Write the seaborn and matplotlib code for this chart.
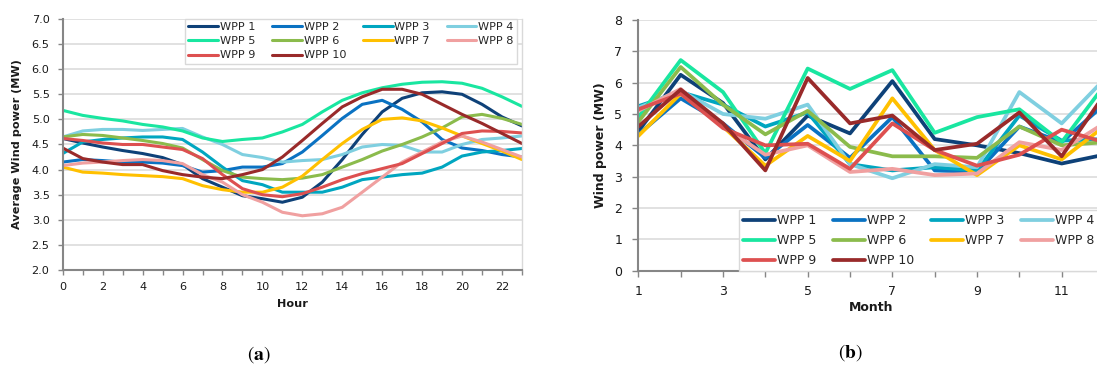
import pandas as pd
import seaborn as sns
import matplotlib.pyplot as plt
from matplotlib.ticker import MultipleLocator

# ---- data ----
hours = list(range(24))
months = list(range(1, 13))
plants = ['WPP 1', 'WPP 2', 'WPP 3', 'WPP 4', 'WPP 5',
          'WPP 6', 'WPP 7', 'WPP 8', 'WPP 9', 'WPP 10']
colors = ['#0e4178', '#0a72c2', '#00a6c0', '#7fcfe0', '#19e6a0',
          '#8bbb4c', '#ffc000', '#f0a0a0', '#dd5050', '#992a2a']

# (a) average wind power per hour
wpp1_hour = [4.62, 4.53, 4.45, 4.38, 4.32, 4.24, 4.10, 3.82, 3.65, 3.48, 3.42, 3.35,
             3.45, 3.75, 4.20, 4.70, 5.15, 5.42, 5.53, 5.55, 5.50, 5.30, 5.05, 4.87]
wpp2_hour = [4.15, 4.20, 4.18, 4.15, 4.15, 4.13, 4.08, 3.95, 3.98, 4.05, 4.05, 4.12,
             4.35, 4.68, 5.02, 5.30, 5.38, 5.20, 4.95, 4.60, 4.43, 4.38, 4.30, 4.25]
wpp3_hour = [4.32, 4.55, 4.60, 4.63, 4.65, 4.65, 4.60, 4.35, 4.05, 3.78, 3.70, 3.55,
             3.55, 3.55, 3.65, 3.80, 3.85, 3.90, 3.93, 4.05, 4.27, 4.35, 4.38, 4.42]
wpp4_hour = [4.65, 4.77, 4.80, 4.80, 4.78, 4.80, 4.82, 4.65, 4.50, 4.30, 4.24, 4.15,
             4.18, 4.20, 4.30, 4.45, 4.50, 4.48, 4.35, 4.35, 4.50, 4.60, 4.63, 4.67]
wpp5_hour = [5.18, 5.08, 5.02, 4.97, 4.90, 4.85, 4.77, 4.63, 4.56, 4.60, 4.63, 4.75,
             4.90, 5.15, 5.38, 5.53, 5.63, 5.70, 5.74, 5.75, 5.72, 5.62, 5.45, 5.26]
wpp6_hour = [4.65, 4.70, 4.68, 4.63, 4.58, 4.52, 4.43, 4.20, 3.98, 3.85, 3.82, 3.80,
             3.83, 3.90, 4.05, 4.20, 4.37, 4.50, 4.65, 4.83, 5.05, 5.10, 5.02, 4.90]
wpp7_hour = [4.05, 3.95, 3.93, 3.90, 3.88, 3.86, 3.82, 3.68, 3.60, 3.55, 3.55, 3.65,
             3.87, 4.20, 4.52, 4.80, 5.00, 5.03, 4.97, 4.83, 4.67, 4.52, 4.37, 4.20]
wpp8_hour = [4.08, 4.13, 4.15, 4.18, 4.20, 4.18, 4.12, 3.90, 3.75, 3.50, 3.35, 3.15,
             3.08, 3.12, 3.25, 3.55, 3.85, 4.15, 4.35, 4.55, 4.67, 4.55, 4.40, 4.25]
wpp9_hour = [4.62, 4.58, 4.53, 4.50, 4.50, 4.45, 4.40, 4.22, 3.90, 3.62, 3.50, 3.46,
             3.52, 3.65, 3.80, 3.92, 4.02, 4.12, 4.32, 4.52, 4.72, 4.77, 4.76, 4.73]
wpp10_hour = [4.43, 4.22, 4.15, 4.10, 4.10, 3.98, 3.90, 3.85, 3.82, 3.90, 4.00, 4.25,
              4.58, 4.92, 5.25, 5.45, 5.60, 5.60, 5.50, 5.30, 5.10, 4.92, 4.72, 4.52]

# (b) wind power per month
wpp1_month = [4.45, 6.25, 5.35, 3.55, 4.95, 4.38, 6.05, 4.20, 4.00, 3.75, 3.42, 3.70]
wpp2_month = [4.35, 5.50, 4.70, 3.60, 4.65, 3.60, 4.90, 3.20, 3.15, 4.60, 4.10, 5.30]
wpp3_month = [5.25, 5.70, 5.30, 4.60, 5.05, 3.40, 3.20, 3.30, 3.20, 4.95, 4.15, 4.20]
wpp4_month = [5.20, 5.75, 5.00, 4.85, 5.30, 3.40, 2.95, 3.40, 3.30, 5.70, 4.70, 6.10]
wpp5_month = [4.90, 6.72, 5.70, 3.75, 6.45, 5.80, 6.40, 4.40, 4.90, 5.15, 4.10, 5.90]
wpp6_month = [4.75, 6.50, 5.30, 4.35, 5.10, 3.95, 3.65, 3.65, 3.60, 4.60, 4.00, 4.10]
wpp7_month = [4.30, 5.65, 4.60, 3.35, 4.30, 3.50, 5.50, 3.85, 3.05, 4.00, 3.55, 4.60]
wpp8_month = [5.10, 5.80, 4.60, 3.70, 4.00, 3.15, 3.25, 3.05, 3.10, 4.10, 3.85, 4.70]
wpp9_month = [5.15, 5.65, 4.55, 4.00, 4.05, 3.25, 4.70, 3.85, 3.35, 3.70, 4.50, 4.10]
wpp10_month = [4.60, 5.78, 4.70, 3.20, 6.15, 4.70, 4.95, 3.85, 4.05, 5.05, 3.65, 5.60]

hour_series = [wpp1_hour, wpp2_hour, wpp3_hour, wpp4_hour, wpp5_hour,
               wpp6_hour, wpp7_hour, wpp8_hour, wpp9_hour, wpp10_hour]
month_series = [wpp1_month, wpp2_month, wpp3_month, wpp4_month, wpp5_month,
                wpp6_month, wpp7_month, wpp8_month, wpp9_month, wpp10_month]

df_hour = pd.DataFrame([(p, h, v) for p, s in zip(plants, hour_series)
                        for h, v in zip(hours, s)], columns=['plant', 'hour', 'power'])
df_month = pd.DataFrame([(p, m, v) for p, s in zip(plants, month_series)
                         for m, v in zip(months, s)], columns=['plant', 'month', 'power'])

# ---- style ----
sns.set_theme(style='white')
plt.rcParams['font.family'] = ['DejaVu Sans']
plt.rcParams['mathtext.fontset'] = 'stix'

grid_c = '#d9d9d9'
axis_c = '#868686'
text_c = '#1a1a1a'

fig = plt.figure(figsize=(10.97, 3.66), dpi=100)
ax1 = fig.add_axes([0.0572, 0.2623, 0.4186, 0.6858])
ax2 = fig.add_axes([0.5819, 0.2604, 0.4245, 0.6850])

# legend filled row by row like the original (matplotlib fills by column)
leg_order = [0, 4, 8, 1, 5, 9, 2, 6, 3, 7]


def style_axes(ax, fs):
    ax.spines['top'].set_visible(False)
    ax.spines['right'].set_color(grid_c)
    ax.spines['right'].set_linewidth(1.0)
    for s in ['left', 'bottom']:
        ax.spines[s].set_color(axis_c)
        ax.spines[s].set_linewidth(1.5)
    ax.yaxis.grid(True, color=grid_c, linewidth=1.1)
    ax.xaxis.grid(False)
    ax.set_axisbelow(True)
    ax.tick_params(which='both', direction='out', length=3.5, width=1.0,
                   color=axis_c, labelsize=fs, labelcolor=text_c, bottom=True, left=True)


def row_legend(ax, **kw):
    h, l = ax.get_legend_handles_labels()
    leg = ax.legend([h[i] for i in leg_order], [l[i] for i in leg_order], ncol=4,
                    borderaxespad=0, frameon=True, fancybox=False, framealpha=1,
                    edgecolor=grid_c, **kw)
    leg.get_frame().set_linewidth(1.0)
    return leg


# --- (a) hourly ---
fs1 = 8.1
sns.lineplot(data=df_hour, x='hour', y='power', hue='plant', hue_order=plants,
             palette=colors, linewidth=2.2, ax=ax1, solid_capstyle='round')
ax1.set_xlim(0, 23)
ax1.set_ylim(2.0, 7.0)
ax1.xaxis.set_major_locator(MultipleLocator(2))
ax1.xaxis.set_minor_locator(MultipleLocator(1))
ax1.yaxis.set_major_locator(MultipleLocator(0.5))
ax1.yaxis.set_major_formatter(plt.FormatStrFormatter('%.1f'))
style_axes(ax1, fs1)
ax1.tick_params(axis='y', pad=6)
ax1.tick_params(axis='x', pad=5)
ax1.set_xlabel('Hour', fontsize=fs1, fontweight='bold', color=text_c)
ax1.set_ylabel('Average Wind power (MW)', fontsize=fs1, fontweight='bold', color=text_c)
ax1.xaxis.set_label_coords(0.5, -0.135)
ax1.xaxis.label.set_va('center')
ax1.yaxis.set_label_coords(-0.099, 0.5)
ax1.yaxis.label.set_va('center')
row_legend(ax1, loc='upper left', bbox_to_anchor=(0.266, 1.0), fontsize=fs1,
           handlelength=2.65, handletextpad=0.15, columnspacing=1.5,
           labelspacing=0.36, borderpad=0.3)

# --- (b) monthly ---
fs2 = 9.0
sns.lineplot(data=df_month, x='month', y='power', hue='plant', hue_order=plants,
             palette=colors, linewidth=2.7, ax=ax2, solid_capstyle='round')
ax2.set_xlim(1, 12)
ax2.set_ylim(0, 8)
ax2.set_xticks(months[::2])
ax2.xaxis.set_minor_locator(MultipleLocator(1))
ax2.yaxis.set_major_locator(MultipleLocator(1))
style_axes(ax2, fs2)
ax2.tick_params(which='both', length=4.5)
ax2.tick_params(axis='y', pad=7)
ax2.tick_params(axis='x', pad=6)
ax2.set_xlabel('Month', fontsize=fs2, fontweight='bold', color=text_c)
ax2.set_ylabel('Wind power (MW)', fontsize=fs2, fontweight='bold', color=text_c)
ax2.xaxis.set_label_coords(0.5, -0.145)
ax2.xaxis.label.set_va('center')
ax2.yaxis.set_label_coords(-0.082, 0.5)
ax2.yaxis.label.set_va('center')
row_legend(ax2, loc='lower left', bbox_to_anchor=(0.216, 0.0), fontsize=fs2,
           handlelength=2.6, handletextpad=0.15, columnspacing=1.3,
           labelspacing=0.56, borderpad=0.3)

# panel captions
fig.text(259 / 1097, 1 - 355 / 366, r'$(\mathbf{a})$', ha='center', va='center',
         fontsize=14, color='black')
fig.text(850 / 1097, 1 - 353 / 366, r'$(\mathbf{b})$', ha='center', va='center',
         fontsize=14, color='black')

fig.savefig('out.png', dpi=100)
